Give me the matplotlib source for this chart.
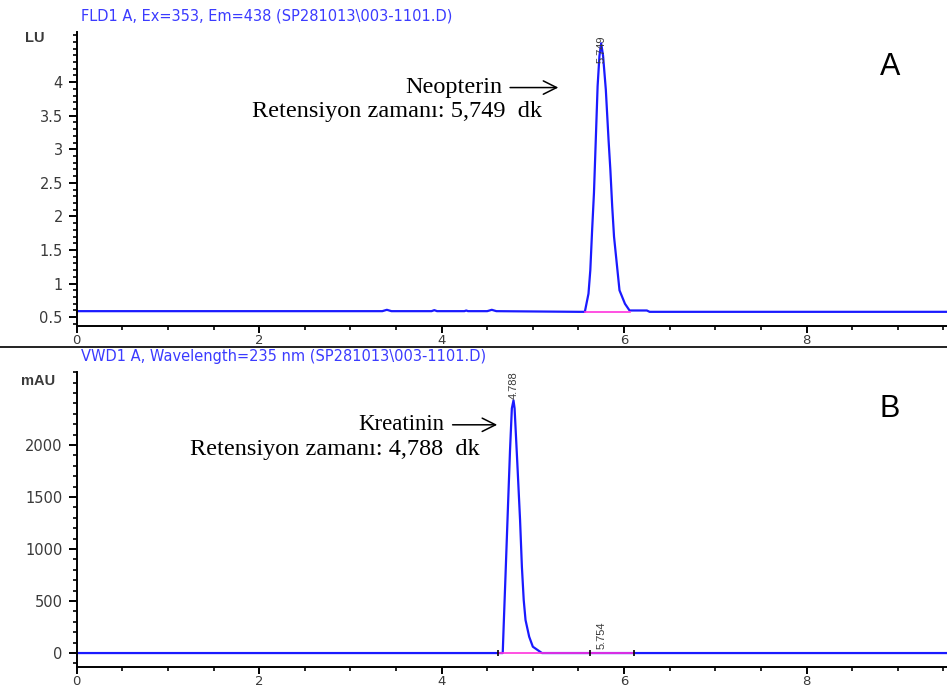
import matplotlib
matplotlib.use("Agg")
import matplotlib.pyplot as plt
from matplotlib.lines import Line2D
from matplotlib.ticker import MultipleLocator, FixedLocator

# FLD1 A trace (top)
fld_time = [0.0, 3.35, 3.40, 3.45, 3.89, 3.92, 3.95, 4.25, 4.27, 4.29, 4.50, 4.55, 4.60,
            5.50, 5.57, 5.61, 5.63, 5.65, 5.67, 5.69, 5.71, 5.73, 5.749, 5.77, 5.80,
            5.83, 5.85, 5.87, 5.89, 5.92, 5.95, 6.01, 6.06, 6.25, 6.28, 9.6]
fld_signal = [0.59, 0.59, 0.61, 0.59, 0.59, 0.605, 0.59, 0.59, 0.60, 0.59, 0.59, 0.61, 0.59,
              0.58, 0.58, 0.85, 1.20, 1.80, 2.35, 3.14, 3.94, 4.39, 4.58, 4.39, 3.89,
              3.14, 2.69, 2.15, 1.70, 1.30, 0.90, 0.70, 0.60, 0.60, 0.58, 0.58]
fld_baseline = [5.57, 6.06]
fld_level = 0.58

# VWD1 A trace (bottom)
vwd_time = [0.0, 4.62, 4.67, 4.68, 4.70, 4.73, 4.75, 4.77, 4.788, 4.80, 4.83, 4.86,
            4.88, 4.90, 4.92, 4.96, 5.00, 5.10, 9.6]
vwd_signal = [0, 0, 0, 253, 734, 1471, 1952, 2353, 2430, 2353, 1824, 1279,
              830, 510, 317, 157, 61, 0, 0]
vwd_baseline = [4.62, 6.11]
vwd_marks = [4.62, 5.63, 6.11]

blue = "#1a1aff"
pink = "#ff33dd"
tick_col = "#3a3a3a"
sans = "Liberation Sans"
serif = "Liberation Serif"

fig = plt.figure(figsize=(9.47, 6.92), dpi=100)
ax1 = fig.add_axes([0.081, 0.529, 0.919, 0.425])
ax2 = fig.add_axes([0.081, 0.036, 0.919, 0.426])


def style(ax):
    for s in ["top", "right"]:
        ax.spines[s].set_visible(False)
    ax.spines["left"].set_linewidth(1.4)
    ax.spines["bottom"].set_linewidth(1.4)
    ax.set_xlim(0, 9.54)
    ax.xaxis.set_major_locator(MultipleLocator(2))
    ax.xaxis.set_minor_locator(MultipleLocator(0.5))
    ax.tick_params(which="major", direction="out", length=6, width=1.4,
                   labelsize=10.5, labelcolor=tick_col)
    ax.tick_params(axis="x", which="major", length=5, pad=0.5, labelsize=9.5)
    ax.tick_params(axis="y", which="major", pad=4)
    ax.tick_params(which="minor", direction="out", length=3, width=1.2)
    for lab in ax.get_xticklabels() + ax.get_yticklabels():
        lab.set_fontfamily("DejaVu Sans")


# top panel
ax1.plot(fld_time, fld_signal, color=blue, lw=1.6)
ax1.plot(fld_baseline, [fld_level, fld_level], color=pink, lw=1.2)
ax1.set_ylim(0.37, 4.75)
ax1.yaxis.set_major_locator(FixedLocator([0.5, 1, 1.5, 2, 2.5, 3, 3.5, 4]))
ax1.yaxis.set_minor_locator(MultipleLocator(0.1))
ax1.yaxis.set_major_formatter(plt.FuncFormatter(lambda v, p: f"{v:g}"))
style(ax1)
ax1.text(5.749, 4.28, "5.749", rotation=90, fontsize=8, color=tick_col,
         ha="center", va="bottom", family=sans)
ax1.annotate("", xy=(5.31, 3.92), xytext=(4.72, 3.92),
             arrowprops=dict(arrowstyle="->", color="black", lw=1.1, mutation_scale=24))
ax1.text(4.67, 3.92, "Neopterin", family=serif, fontsize=17.5,
         ha="right", va="center")
ax1.text(5.1, 3.56, "Retensiyon zamanı: 5,749  dk", family=serif,
         fontsize=17.5, ha="right", va="center")
ax1.text(0.923, 0.88, "A", transform=ax1.transAxes, fontsize=22,
         family=sans, ha="left", va="center")

# bottom panel
ax2.plot(vwd_time, vwd_signal, color=blue, lw=1.6)
ax2.plot(vwd_baseline, [0, 0], color=pink, lw=1.2)
ax2.plot(vwd_marks, [0, 0, 0], ls="none", marker="|", color="black", ms=5, mew=1.2)
ax2.set_ylim(-135, 2700)
ax2.yaxis.set_major_locator(FixedLocator([0, 500, 1000, 1500, 2000]))
ax2.yaxis.set_minor_locator(MultipleLocator(100))
style(ax2)
ax2.text(4.788, 2440, "4.788", rotation=90, fontsize=8, color=tick_col,
         ha="center", va="bottom", family=sans)
ax2.text(5.754, 40, "5.754", rotation=90, fontsize=8, color=tick_col,
         ha="center", va="bottom", family=sans)
ax2.annotate("", xy=(4.64, 2195), xytext=(4.09, 2195),
             arrowprops=dict(arrowstyle="->", color="black", lw=1.1, mutation_scale=24))
ax2.text(4.03, 2195, "Kreatinin", family=serif, fontsize=16.5,
         ha="right", va="center")
ax2.text(4.42, 1962, "Retensiyon zamanı: 4,788  dk", family=serif,
         fontsize=17.5, ha="right", va="center")
ax2.text(0.923, 0.875, "B", transform=ax2.transAxes, fontsize=22,
         family=sans, ha="left", va="center")

# headers and unit labels
fig.text(0.086, 0.977, "FLD1 A, Ex=353, Em=438 (SP281013\\003-1101.D)",
         color="#3b3bff", fontsize=10.5, va="center", family="DejaVu Sans")
fig.text(0.086, 0.485, "VWD1 A, Wavelength=235 nm (SP281013\\003-1101.D)",
         color="#3b3bff", fontsize=10.5, va="center", family="DejaVu Sans")
fig.text(0.026, 0.945, "LU", fontsize=10.5, color=tick_col, weight="bold", va="center",
         family=sans)
fig.text(0.022, 0.449, "mAU", fontsize=10.5, color=tick_col, weight="bold", va="center",
         family=sans)
fig.add_artist(Line2D([0, 1], [0.4986, 0.4986], color="#222222", lw=1.4))

fig.savefig("out.png", dpi=100)
